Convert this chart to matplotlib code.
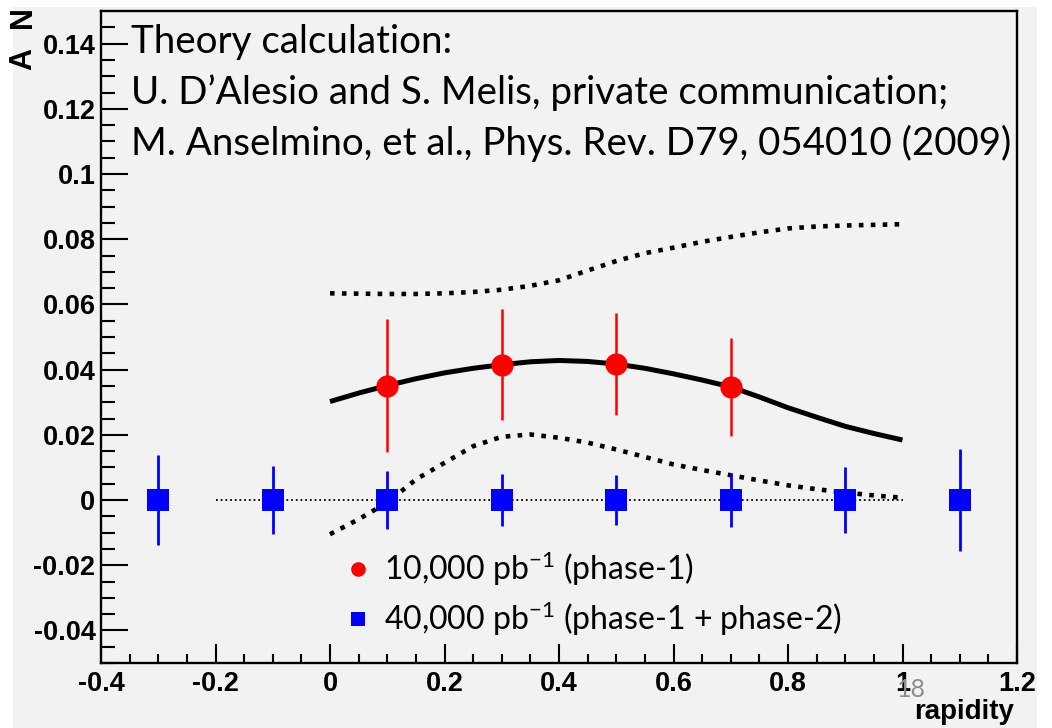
import matplotlib
matplotlib.use("Agg")
import matplotlib.pyplot as plt
from matplotlib.lines import Line2D
from matplotlib.patches import Rectangle

plt.rcParams["mathtext.fontset"] = "custom"
plt.rcParams["mathtext.rm"] = "Lato"
plt.rcParams["mathtext.it"] = "Lato:italic"
plt.rcParams["mathtext.bf"] = "Lato:bold"

# --- data -------------------------------------------------------------
# phase-1 projection (10,000 pb^-1)
p1_x = [0.1, 0.3, 0.5, 0.7]
p1_y = [0.0351, 0.0415, 0.0417, 0.0347]
p1_err = [0.0205, 0.0170, 0.0156, 0.0150]

# phase-1 + phase-2 projection (40,000 pb^-1)
p2_x = [-0.3, -0.1, 0.1, 0.3, 0.5, 0.7, 0.9, 1.1]
p2_y = [0, 0, 0, 0, 0, 0, 0, 0]
p2_err = [0.0139, 0.0105, 0.0088, 0.0080, 0.0078, 0.0083, 0.0102, 0.0155]

# theory: central value and upper/lower bands
th_x = [0.0, 0.05, 0.1, 0.15, 0.2, 0.25, 0.3, 0.35, 0.4, 0.45, 0.5,
        0.55, 0.6, 0.65, 0.7, 0.75, 0.8, 0.85, 0.9, 0.95, 1.0]
th_mid = [0.0302, 0.0328, 0.0351, 0.0372, 0.0390, 0.0404, 0.0415, 0.0424,
          0.0428, 0.0425, 0.0417, 0.0404, 0.0387, 0.0368, 0.0347, 0.0316,
          0.0283, 0.0254, 0.0226, 0.0204, 0.0184]
th_hi = [0.0634, 0.0633, 0.0632, 0.0632, 0.0634, 0.0638, 0.0645, 0.0657,
         0.0674, 0.0704, 0.0733, 0.0757, 0.0774, 0.0792, 0.0807, 0.0821,
         0.0833, 0.0839, 0.0842, 0.0844, 0.0846]
th_lo = [-0.0105, -0.0059, -0.0008, 0.0063, 0.0114, 0.0165, 0.0194, 0.0201,
         0.0191, 0.0176, 0.0155, 0.0132, 0.0109, 0.0092, 0.0076, 0.0060,
         0.0045, 0.0033, 0.0023, 0.0014, 0.0007]

zero_x = [-0.2, 1.0]
zero_y = [0, 0]

xticks = [-0.4, -0.2, 0, 0.2, 0.4, 0.6, 0.8, 1, 1.2]
xticklabels = ["-0.4", "-0.2", "0", "0.2", "0.4", "0.6", "0.8", "1", "1.2"]
yticks = [-0.04, -0.02, 0, 0.02, 0.04, 0.06, 0.08, 0.1, 0.12, 0.14]
yticklabels = ["-0.04", "-0.02", "0", "0.02", "0.04", "0.06", "0.08",
               "0.1", "0.12", "0.14"]

theory_lines = [
    "Theory calculation:",
    "U. D\u2019Alesio and S. Melis, private communication;",
    "M. Anselmino, et al., Phys. Rev. D79, 054010 (2009)",
]
labels = [r"10,000 pb$^{\mathregular{-1}}$ (phase-1)",
          r"40,000 pb$^{\mathregular{-1}}$ (phase-1 + phase-2)"]

# --- figure -----------------------------------------------------------
W, H = 1052, 728
fig = plt.figure(figsize=(W / 100, H / 100), dpi=100, facecolor="white")
fig.patches.append(Rectangle((13 / W, 0), 1024 / W, 721 / H,
                             transform=fig.transFigure, facecolor="#f2f2f2",
                             edgecolor="none", zorder=-10))


def fx(x):
    return x / W


def fy(y):
    return 1 - y / H


ax = fig.add_axes([fx(101), fy(663), (1017 - 101) / W, (663 - 11) / H])
ax.set_facecolor("none")
ax.set_xlim(-0.4, 1.2)
ax.set_ylim(-0.05, 0.15)

for side in ["left", "right", "top", "bottom"]:
    ax.spines[side].set_linewidth(1.7)

ax.set_xticks(xticks)
ax.set_xticklabels(xticklabels)
ax.set_yticks(yticks)
ax.set_yticklabels(yticklabels)
ax.set_xticks([i * 0.05 - 0.4 for i in range(33)], minor=True)
ax.set_yticks([i * 0.005 - 0.05 for i in range(40)], minor=True)
ax.tick_params(axis="both", which="both", direction="in", width=1.5,
               top=False, right=False)
ax.tick_params(axis="y", which="major", length=19.5, pad=4)
ax.tick_params(axis="y", which="minor", length=10)
ax.tick_params(axis="x", which="major", length=13.5, pad=6)
ax.tick_params(axis="x", which="minor", length=6.5)
for lab in ax.get_xticklabels() + ax.get_yticklabels():
    lab.set_fontfamily("Liberation Sans")
    lab.set_fontweight("bold")
    lab.set_fontsize(19.5)

# reference line at zero
ax.plot(zero_x, zero_y, color="black", lw=1.3, dashes=(1, 1.6),
        dash_capstyle="butt", zorder=1)

# theory curves
ax.plot(th_x, th_mid, color="black", lw=3.6, solid_capstyle="butt", zorder=2)
ax.plot(th_x, th_hi, color="black", lw=3.3, dashes=(1, 1.6),
        dash_capstyle="butt", zorder=2)
ax.plot(th_x, th_lo, color="black", lw=3.3, dashes=(1, 1.6),
        dash_capstyle="butt", zorder=2)

ax.errorbar(p2_x, p2_y, yerr=p2_err, fmt="s", color="blue", ms=15.5,
            mew=0, elinewidth=2, capsize=2.5, capthick=2.4, zorder=3)
ax.errorbar(p1_x, p1_y, yerr=p1_err, fmt="o", color="red", ms=16,
            mew=0, elinewidth=1.8, capsize=2.5, capthick=2.4, zorder=3)

# legend
handles = [Line2D([], [], ls="none", marker="o", color="red", ms=10.5, mew=0),
           Line2D([], [], ls="none", marker="s", color="blue", ms=10, mew=0)]
leg = ax.legend(handles, labels, loc="upper left",
                bbox_to_anchor=(fx(344), fy(549)),
                bbox_transform=fig.transFigure, frameon=False,
                prop={"family": "Lato", "size": 23}, handlelength=0.9,
                handletextpad=0.35, labelspacing=0.37, borderpad=0,
                borderaxespad=0)

# theory annotation
for i, line in enumerate(theory_lines):
    fig.text(fx(131), fy(53 + 51 * i), line, family="Lato", fontsize=27.7,
             va="baseline", ha="left")

# axis titles
fig.text(fx(38), fy(70), "A", rotation=90, family="Liberation Sans",
         weight="bold", fontsize=22, ha="right", va="bottom")
fig.text(fx(38), fy(28), "N", rotation=90, family="Liberation Sans",
         weight="bold", fontsize=22, ha="right", va="bottom")
fig.text(fx(1014), fy(719), "rapidity", family="Liberation Sans",
         weight="bold", fontsize=20, ha="right", va="baseline")

# page number
fig.text(fx(897), fy(697), "18", family="Lato", fontsize=18,
         color="#8c8c8c", ha="left", va="baseline")

fig.savefig("out.png", dpi=100, facecolor=fig.get_facecolor())
